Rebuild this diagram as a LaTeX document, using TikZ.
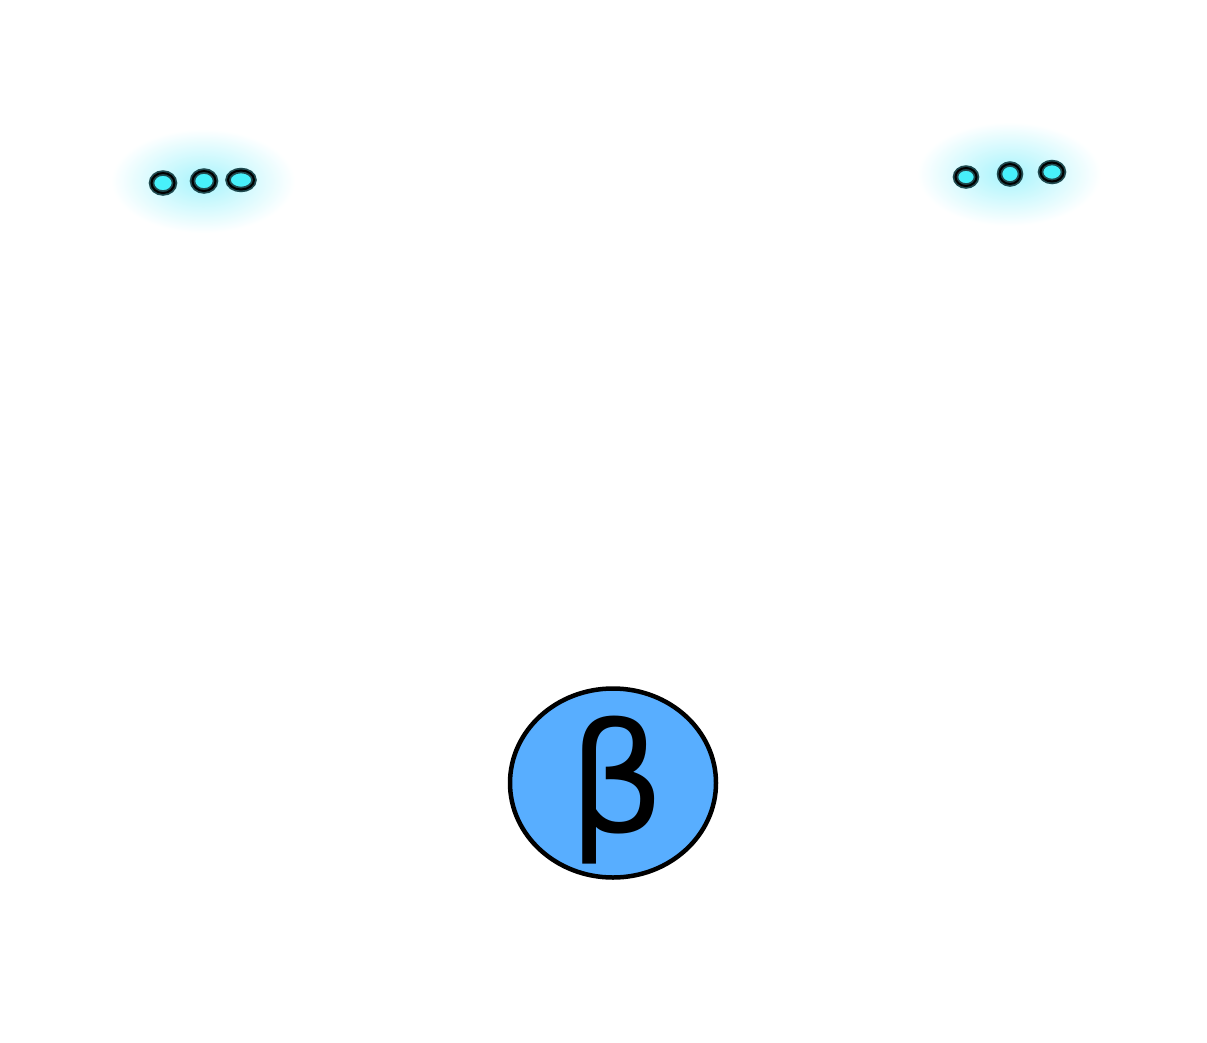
\documentclass[tikz,border=0pt]{standalone}
\usepackage{fontspec}
\newfontfamily\betafont{DejaVu Sans}
\usetikzlibrary{shapes.geometric}
\definecolor{dotfill}{HTML}{48F0FA}
\definecolor{dotrim}{HTML}{1F4A4F}
\definecolor{glowc}{HTML}{A8F4FC}
\definecolor{bigfill}{HTML}{58AEFF}
\tikzset{
  dot/.style={ellipse, draw=dotrim, line width=5.5pt, fill=dotfill, inner sep=0pt, minimum width=#1, minimum height=22pt,
    postaction={draw=black, line width=2pt}},
  dot/.default=25pt,
  bigdisc/.style={ellipse, draw=black, line width=4.5pt, fill=bigfill, minimum width=206pt, minimum height=189pt, inner sep=0pt},
  glow/.style={inner color=glowc, outer color=white}
}
\begin{document}
\begin{tikzpicture}[x=1pt,y=-1pt]
\useasboundingbox[fill=white] (0,0) rectangle (1207,1042);
% glows
\shade[glow] (203,181) ellipse [x radius=92, y radius=52];
\shade[glow] (1009,174) ellipse [x radius=92, y radius=52];
% left dots
\node[dot=23pt, minimum height=20pt] (l1) at (163,183) {};
\node[dot=23pt, minimum height=20pt] (l2) at (204,181) {};
\node[dot=26pt, minimum height=19pt] (l3) at (241,180) {};
% right dots
\node[dot=21pt, minimum height=18pt] (r1) at (966,177) {};
\node[dot=21pt, minimum height=20pt] (r2) at (1010,174) {};
\node[dot=23pt, minimum height=19pt] (r3) at (1052,172) {};
% big disc
\node[bigdisc] (b) at (613,783) {};
\node[font=\betafont\fontsize{152}{152}\selectfont, inner sep=0pt, anchor=center] (beta) at (617,790) {β};
\end{tikzpicture}
\end{document}
